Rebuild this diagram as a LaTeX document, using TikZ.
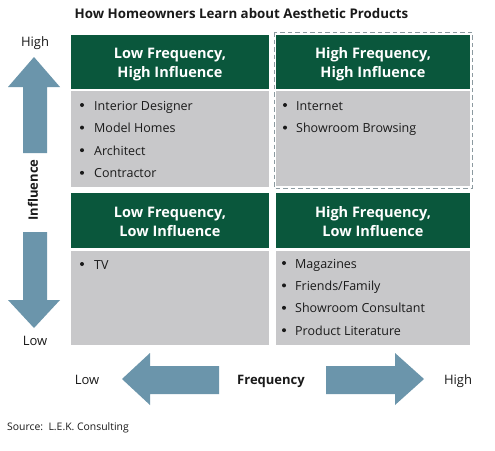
\documentclass[tikz,border=0pt]{standalone}
\usepackage{fontspec}
\setmainfont{Open Sans}
\definecolor{hdr}{HTML}{0A573C}
\definecolor{bodyg}{HTML}{C8C8CA}
\definecolor{arrowc}{HTML}{6B95AB}
\definecolor{dashc}{HTML}{8C9AA0}
\definecolor{txt}{HTML}{1A1A1A}
\begin{document}
\begin{tikzpicture}[x=1pt,y=-1pt,
  header/.style={anchor=base,text=white,inner sep=0,font=\fontsize{14.5}{19}\selectfont\bfseries},
  item/.style={anchor=base west,inner sep=0,text=txt,font=\fontsize{12.5}{15}\selectfont},
  axislbl/.style={anchor=base,inner sep=0,text=txt,font=\fontsize{13}{15}\selectfont},
  arrowshape/.style={fill=arrowc,draw=none}]
\useasboundingbox (0,0) rectangle (495,450);
\fill[white] (0,0) rectangle (495,450);

\node[anchor=base,inner sep=0,text=txt,font=\fontsize{13.3}{15}\selectfont\bfseries] (title) at (241.5,18.3) {How Homeowners Learn about Aesthetic Products};

% dashed highlight
\draw[dashc,dash pattern=on 4.5pt off 3pt,line width=0.8pt] (274,32) rectangle (472,188);

% top-left
\fill[hdr] (71,35) rectangle (269,89);
\node[header] (h1a) at (170,58) {Low Frequency,};
\node[header] (h1b) at (170,77) {High Influence};
\fill[bodyg] (71,91) rectangle (269,187);
% top-right
\fill[hdr] (276,35) rectangle (470,89);
\node[header] (h2a) at (373,58) {High Frequency,};
\node[header] (h2b) at (373,77) {High Influence};
\fill[bodyg] (276,91) rectangle (470,186);
% bottom-left
\fill[hdr] (71,193) rectangle (269,248);
\node[header] (h3a) at (170,217) {Low Frequency,};
\node[header] (h3b) at (170,236) {Low Influence};
\fill[bodyg] (71,251) rectangle (269,345);
% bottom-right
\fill[hdr] (276,193) rectangle (470,248);
\node[header] (h4a) at (373,217) {High Frequency,};
\node[header] (h4b) at (373,236) {Low Influence};
\fill[bodyg] (276,251) rectangle (470,345);

% items
\foreach \t [count=\i] in {Interior Designer,Model Homes,Architect,Contractor}{
  \fill[txt] (82,{110+(\i-1)*22.6-5}) circle[radius=2pt];
  \node[item] (a\i) at (94,{110+(\i-1)*22.6}) {\t};
}
\foreach \t [count=\i] in {Internet,Showroom Browsing}{
  \fill[txt] (285,{110+(\i-1)*22.6-5}) circle[radius=2pt];
  \node[item] (b\i) at (296,{110+(\i-1)*22.6}) {\t};
}
\fill[txt] (82,264) circle[radius=2pt];
\node[item] (c1) at (94,269) {TV};
\foreach \t [count=\i] in {Magazines,Friends/Family,Showroom Consultant,Product Literature}{
  \fill[txt] (284,{268+(\i-1)*22.4-5}) circle[radius=2pt];
  \node[item] (d\i) at (295,{268+(\i-1)*22.4}) {\t};
}

% vertical arrows
\fill[arrowshape] (34,57) -- (60,87) -- (47,87) -- (47,153) -- (23,153) -- (23,87) -- (8,87) -- cycle;
\fill[arrowshape] (34,328) -- (60,300) -- (47,300) -- (47,232) -- (23,232) -- (23,300) -- (8,300) -- cycle;
\node[axislbl] (vhigh) at (35,46) {High};
\node[axislbl] (vlow) at (35,345) {Low};
\node[inner sep=0,text=txt,rotate=90,font=\fontsize{13}{15}\selectfont\bfseries] (infl) at (33,190) {Influence};

% horizontal arrows
\fill[arrowshape] (122,379) -- (150,353) -- (150,366) -- (219,366) -- (219,394) -- (150,394) -- (150,405) -- cycle;
\fill[arrowshape] (424,379) -- (395,353) -- (395,366) -- (326,366) -- (326,394) -- (395,394) -- (395,405) -- cycle;
\node[axislbl] (hlow) at (87,384) {Low};
\node[axislbl,font=\fontsize{13}{15}\selectfont\bfseries] (freq) at (271,384) {Frequency};
\node[axislbl] (hhigh) at (458,384) {High};

\node[anchor=base west,inner sep=0,text=txt,font=\fontsize{10.4}{12}\selectfont] (src) at (7,430) {Source:\ \ L.E.K. Consulting};
\end{tikzpicture}
\end{document}
